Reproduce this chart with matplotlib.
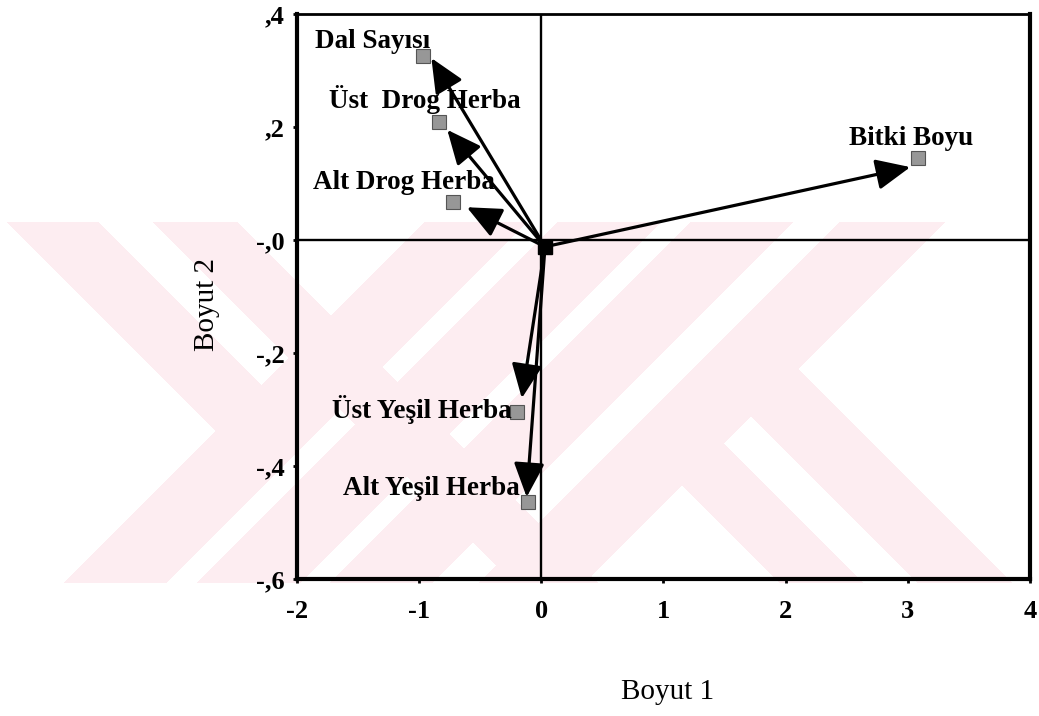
import numpy as np
import matplotlib.pyplot as plt

# variable names, point (square) positions and arrow tips in the Boyut 1 / Boyut 2 plane
names = ["Dal Sayısı", "Üst  Drog Herba", "Alt Drog Herba", "Bitki Boyu",
         "Üst Yeşil Herba", "Alt Yeşil Herba"]
point_x = [-0.97, -0.84, -0.72, 3.08, -0.20, -0.11]
point_y = [0.326, 0.209, 0.067, 0.145, -0.304, -0.464]
arrow_x = [-0.90, -0.77, -0.61, 3.02, -0.16, -0.12]
arrow_y = [0.322, 0.195, 0.058, 0.129, -0.280, -0.455]
origin_x, origin_y = 0.03, -0.012

xticks = [-2, -1, 0, 1, 2, 3, 4]
yticks = [0.4, 0.2, 0.0, -0.2, -0.4, -0.6]
yticklabels = [",4", ",2", "-,0", "-,2", "-,4", "-,6"]

# label offsets in pixels (dx, dy) from each square, and alignment
label_off = [(7, 14), (82, 22), (42, 20), (-6, 20), (-5, 2), (-8, 14)]
label_ha = ["right", "right", "right", "center", "right", "right"]

W, H = 1039, 716
fig = plt.figure(figsize=(W / 100, H / 100), dpi=100)

# faint pink watermark of the scanned page
yy, xx = np.mgrid[0:H, 0:W]
u = xx + yy
v = xx - yy
band = (yy >= 222) & (yy <= 582)
mark = ((v >= -215) & (v <= -124) & (u <= 646)) \
    | ((v >= -69) & (v <= 15)) \
    | ((u >= 646) & (u <= 748)) \
    | ((u >= 779) & (u <= 882)) \
    | ((u >= 912) & (u <= 1014)) \
    | ((u >= 1061) & (u <= 1166)) \
    | ((v >= 335) & (v <= 429) & (u >= 1166)) \
    | ((v >= 197) & (v <= 280) & (u >= 1166))
img = np.ones((H, W, 4))
img[..., 0] = 253 / 255
img[..., 1] = 237 / 255
img[..., 2] = 241 / 255
img[..., 3] = (mark & band).astype(float)
fig.figimage(img, xo=0, yo=0, origin="upper", zorder=-1)

ax = fig.add_axes([297 / W, 1 - 579 / H, (1030 - 297) / W, (579 - 14) / H])
ax.set_facecolor("none")
ax.set_xlim(-2, 4)
ax.set_ylim(-0.6, 0.4)

ax.axhline(0, color="black", lw=1.7, zorder=1)
ax.axvline(0, color="black", lw=1.7, zorder=1)

for i in range(len(names)):
    ax.annotate("", xy=(arrow_x[i], arrow_y[i]), xytext=(origin_x, origin_y),
                arrowprops=dict(arrowstyle="-|>,head_length=1.0,head_width=0.45",
                                mutation_scale=21, lw=2.3, color="black",
                                shrinkA=0, shrinkB=0), zorder=3)

ax.plot(point_x, point_y, "s", ms=10, mfc="#979797", mec="#555555", mew=0.8,
        ls="none", zorder=4)
ax.plot([origin_x], [origin_y], "s", ms=10, mfc="black", mec="black", zorder=5)

for i, name in enumerate(names):
    ax.annotate(name, xy=(point_x[i], point_y[i]), xytext=label_off[i],
                textcoords="offset pixels", ha=label_ha[i], va="center",
                fontsize=19.5, fontweight="bold", family="Liberation Serif", zorder=6)

ax.set_xticks(xticks)
ax.set_xticklabels([str(t) for t in xticks])
ax.set_yticks(yticks)
ax.set_yticklabels(yticklabels)
ax.tick_params(axis="both", direction="out", length=3, width=2,
               labelsize=19)
ax.tick_params(axis="x", pad=12)
ax.tick_params(axis="y", pad=6)
for lab in ax.get_xticklabels() + ax.get_yticklabels():
    lab.set_family("Liberation Serif")
    lab.set_fontweight("bold")

for side in ["left", "bottom", "right"]:
    ax.spines[side].set_linewidth(3)
ax.spines["top"].set_linewidth(2)

ax.set_xlabel("Boyut 1", fontsize=21, family="Liberation Serif")
ax.set_ylabel("Boyut 2", fontsize=21, family="Liberation Serif")
ax.xaxis.set_label_coords(0.506, -0.177)
ax.yaxis.set_label_coords(-0.105, 0.485)

fig.savefig("out.png", dpi=100)
